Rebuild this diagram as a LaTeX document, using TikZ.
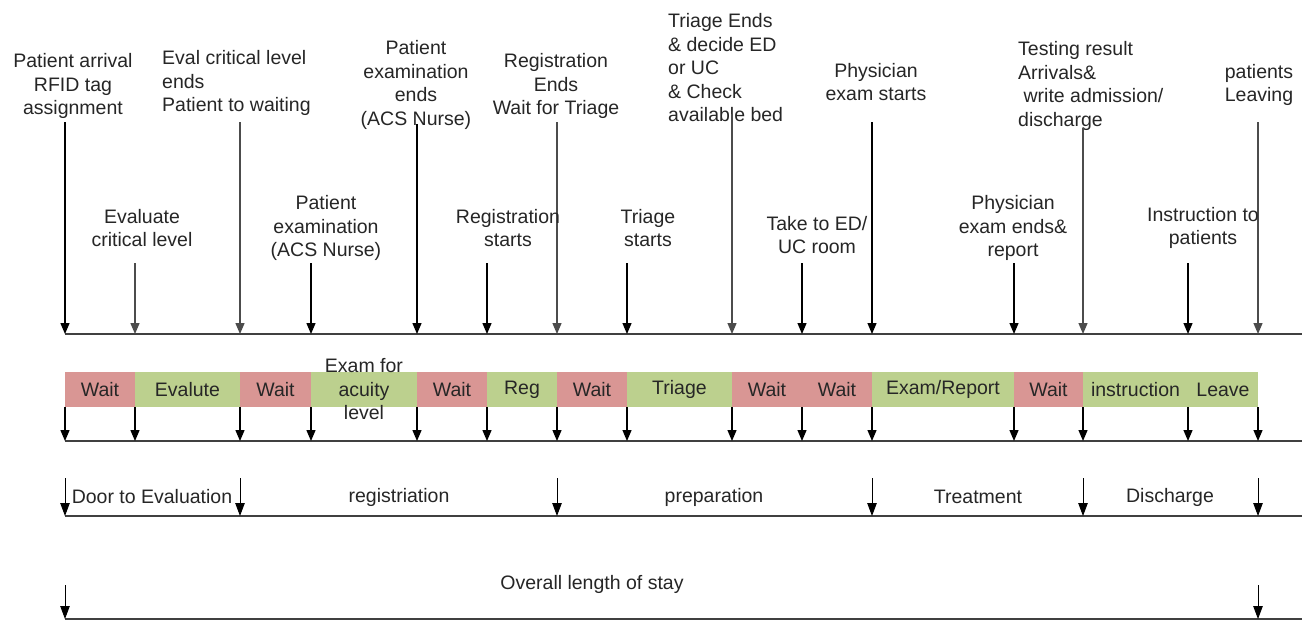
\documentclass[tikz,border=0pt]{standalone}
\usepackage{fontspec}
\setmainfont{Liberation Sans}
\usetikzlibrary{arrows.meta}
\definecolor{waitred}{HTML}{D99694}
\definecolor{workgreen}{HTML}{BCD08E}
\begin{document}
\begin{tikzpicture}[x=1pt,y=-1pt,
  lbl/.style={font=\fontsize{19.5}{23.5}\selectfont, align=center, inner sep=0pt, text=black!85},
  lbll/.style={lbl, align=left},
  arr/.style={line width=1.3pt, draw=black, -{Triangle[length=11pt,width=9pt]}},
  arrg/.style={arr, draw=black!70},
  thinarr/.style={line width=0.9pt, draw=black, -{Triangle[length=13pt,width=9.5pt]}},
  axis/.style={line width=1.8pt, draw=black!75},
  segbox/.style={inner sep=0pt, outer sep=0pt, minimum height=35pt, anchor=west,
    font=\fontsize{19.5}{23.5}\selectfont, text=black!85},
  waitseg/.style={segbox, fill=waitred},
  workseg/.style={segbox, fill=workgreen}
]
\useasboundingbox[fill=white] (0,0) rectangle (1302,621);

% tick positions on the first axis
\foreach \i/\x in {1/65,2/135,3/240,4/311,5/417,6/487,7/557,8/627,9/732,10/802,11/872,12/1014,13/1083,14/1188,15/1258}{
  \coordinate (t\i) at (\x,334);
  \coordinate (b\i) at (\x,407);
  \coordinate (u\i) at (\x,441);
}
\coordinate (axAe) at (1302,334);
\coordinate (axBe) at (1302,441);
\coordinate (axCs) at (65,516);
\coordinate (axCe) at (1302,516);
\coordinate (axDs) at (65,619);
\coordinate (axDe) at (1302,619);

% axes
\draw[axis] (t1) -- (axAe);
\draw[axis] (u1) -- (axBe);
\draw[axis] (axCs) -- (axCe);
\draw[axis] (axDs) -- (axDe);

% top labels and long arrows
\node[lbl] (L1) at (73,86) {Patient arrival\\RFID tag\\assignment};
\node[lbll, anchor=west] (L2) at (162,83) {Eval critical level\\ends\\Patient to waiting};
\node[lbl] (L3) at (416,85) {Patient\\examination\\ends\\(ACS Nurse)};
\node[lbl] (L4) at (556,86) {Registration\\Ends\\Wait for Triage};
\node[lbll, anchor=west] (L5) at (668,68) {Triage Ends\\\& decide ED\\or UC\\\& Check\\available bed};
\node[lbl] (L6) at (876,82) {Physician\\exam starts};
\node[lbll, anchor=west] (L7) at (1018,86) {Testing result\\Arrivals\&\\\ write admission/\\discharge};
\node[lbl] (L8) at (1259,85) {patients\\Leaving};

\coordinate (s1) at (65,122);
\coordinate (s3) at (240,122);
\coordinate (s5) at (417,124);
\coordinate (s7) at (557,122);
\coordinate (s9) at (732,114);
\coordinate (s11) at (872,122);
\coordinate (s13) at (1083,128);
\coordinate (s15) at (1258,122);
\draw[arr] (s1) -- (t1);
\draw[arrg] (s3) -- (t3);
\draw[arr] (s5) -- (t5);
\draw[arrg] (s7) -- (t7);
\draw[arrg] (s9) -- (t9);
\draw[arr] (s11) -- (t11);
\draw[arrg] (s13) -- (t13);
\draw[arrg] (s15) -- (t15);

% middle labels and short arrows
\node[lbl] (M1) at (142,228) {Evaluate\\critical level};
\node[lbl] (M2) at (326,228) {Patient\\examination\\(ACS Nurse)};
\node[lbl] (M3) at (508,228) {Registration\\starts};
\node[lbl] (M4) at (648,228) {Triage\\starts};
\node[lbl] (M5) at (817,235) {Take to ED/\\UC room};
\node[lbl] (M6) at (1013,228) {Physician\\exam ends\&\\report};
\node[lbl] (M7) at (1203,228) {Instruction to\\patients};

\coordinate (m2) at (135,263);
\coordinate (m4) at (311,263);
\coordinate (m6) at (487,263);
\coordinate (m8) at (627,263);
\coordinate (m10) at (802,263);
\coordinate (m12) at (1014,263);
\coordinate (m14) at (1188,263);
\draw[arrg] (m2) -- (t2);
\foreach \i in {4,6,8,10,12,14}{
  \draw[arr] (m\i) -- (t\i);
}

% coloured bar
\node[waitseg, minimum width=70pt] (g1) at (65,389.5) {Wait};
\node[workseg, minimum width=105pt] (g2) at (135,389.5) {Evalute};
\node[waitseg, minimum width=71pt] (g3) at (240,389.5) {Wait};
\node[workseg, minimum width=106pt] (g4) at (311,389.5) {};
\node[waitseg, minimum width=70pt] (g5) at (417,389.5) {Wait};
\node[workseg, minimum width=70pt] (g6) at (487,389.5) {Reg};
\node[waitseg, minimum width=70pt] (g7) at (557,389.5) {Wait};
\node[workseg, minimum width=105pt] (g8) at (627,389.5) {Triage};
\node[waitseg, minimum width=70pt] (g9) at (732,389.5) {Wait};
\node[waitseg, minimum width=70pt] (g10) at (802,389.5) {Wait};
\node[workseg, minimum width=142pt] (g11) at (872,389.5) {Exam/Report};
\node[waitseg, minimum width=69pt] (g12) at (1014,389.5) {Wait};
\node[workseg, minimum width=105pt] (g13) at (1083,389.5) {instruction};
\node[workseg, minimum width=70pt] (g14) at (1188,389.5) {Leave};
\node[lbl] (g4t) at (g4.center) {Exam for\\acuity\\level};

% arrows under the bar
\foreach \i in {1,...,15}{
  \draw[arr] (b\i) -- (u\i);
}

% phase row
\coordinate (p1) at (65,478);
\coordinate (p3) at (240,478);
\coordinate (p7) at (557,478);
\coordinate (p11) at (872,478);
\coordinate (p13) at (1083,478);
\coordinate (p15) at (1258,478);
\foreach \i in {1,3,7,11,13,15}{
  \draw[thinarr] (p\i) -- (p\i |- axCs);
}
\node[lbl] (P1) at (152,497) {Door to Evaluation};
\node[lbl] (P2) at (399,497) {registriation};
\node[lbl] (P3) at (714,497) {preparation};
\node[lbl] (P4) at (978,497) {Treatment};
\node[lbl] (P5) at (1170,497) {Discharge};

% overall row
\node[lbl] (O1) at (592,584) {Overall length of stay};
\coordinate (o1) at (65,585);
\coordinate (o2) at (1258,585);
\draw[thinarr] (o1) -- (o1 |- axDs);
\draw[thinarr] (o2) -- (o2 |- axDs);
\end{tikzpicture}
\end{document}
